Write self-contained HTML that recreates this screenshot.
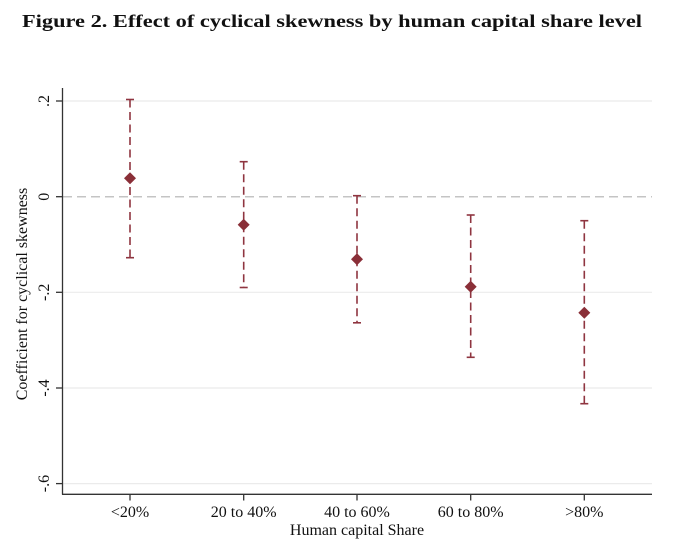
<!DOCTYPE html>
<html>
<head>
<meta charset="utf-8">
<style>
  html, body { margin: 0; padding: 0; background: #ffffff; }
  svg { display: block; }
  text { font-family: "Liberation Serif", "DejaVu Serif", serif; fill: #111; }
</style>
</head>
<body>
<svg width="684" height="547" viewBox="0 0 684 547" xmlns="http://www.w3.org/2000/svg">
  <rect x="0" y="0" width="684" height="547" fill="#ffffff"/>

  <!-- Title -->
  <text x="22" y="27" font-size="18" font-weight="bold" textLength="620" lengthAdjust="spacingAndGlyphs">Figure 2. Effect of cyclical skewness by human capital share level</text>

  <!-- Gridlines -->
  <g stroke="#ebebeb" stroke-width="1.2">
    <line x1="63" y1="101" x2="652" y2="101"/>
    <line x1="63" y1="292.3" x2="652" y2="292.3"/>
    <line x1="63" y1="388" x2="652" y2="388"/>
    <line x1="63" y1="483.6" x2="652" y2="483.6"/>
  </g>
  <!-- Zero dashed line -->
  <line x1="63" y1="196.7" x2="652" y2="196.7" stroke="#c4c4c4" stroke-width="1.5" stroke-dasharray="9,5"/>

  <!-- Axes -->
  <g stroke="#333" stroke-width="1.3" fill="none">
    <line x1="62.5" y1="88" x2="62.5" y2="494.5"/>
    <line x1="62" y1="494.3" x2="652" y2="494.3"/>
    <!-- y ticks -->
    <line x1="56" y1="101" x2="62.5" y2="101"/>
    <line x1="56" y1="196.7" x2="62.5" y2="196.7"/>
    <line x1="56" y1="292.3" x2="62.5" y2="292.3"/>
    <line x1="56" y1="388" x2="62.5" y2="388"/>
    <line x1="56" y1="483.6" x2="62.5" y2="483.6"/>
    <!-- x ticks -->
    <line x1="130" y1="494.3" x2="130" y2="500.5"/>
    <line x1="243.7" y1="494.3" x2="243.7" y2="500.5"/>
    <line x1="357" y1="494.3" x2="357" y2="500.5"/>
    <line x1="470.7" y1="494.3" x2="470.7" y2="500.5"/>
    <line x1="584.3" y1="494.3" x2="584.3" y2="500.5"/>
  </g>

  <!-- Y tick labels (rotated) -->
  <g font-size="16" text-anchor="middle">
    <text transform="translate(49,101) rotate(-90)">.2</text>
    <text transform="translate(49,196.7) rotate(-90)">0</text>
    <text transform="translate(49,292.3) rotate(-90)">-.2</text>
    <text transform="translate(49,388) rotate(-90)">-.4</text>
    <text transform="translate(49,483.6) rotate(-90)">-.6</text>
  </g>

  <!-- Y axis title -->
  <text transform="translate(27,294) rotate(-90)" font-size="16" text-anchor="middle">Coefficient for cyclical skewness</text>

  <!-- X tick labels -->
  <g font-size="16" text-anchor="middle">
    <text x="130" y="517">&lt;20%</text>
    <text x="243.7" y="517">20 to 40%</text>
    <text x="357" y="517">40 to 60%</text>
    <text x="470.7" y="517">60 to 80%</text>
    <text x="584.3" y="517">&gt;80%</text>
  </g>
  <!-- X axis title -->
  <text x="357" y="535" font-size="16" text-anchor="middle">Human capital Share</text>

  <!-- Error bars -->
  <g stroke="#8f3540" stroke-width="1.6" fill="none">
    <line x1="130" y1="99.5" x2="130" y2="257.7" stroke-dasharray="8,4.5"/>
    <line x1="126" y1="99.5" x2="134" y2="99.5"/>
    <line x1="126" y1="257.7" x2="134" y2="257.7"/>

    <line x1="243.7" y1="161.7" x2="243.7" y2="287.5" stroke-dasharray="8,4.5"/>
    <line x1="239.7" y1="161.7" x2="247.7" y2="161.7"/>
    <line x1="239.7" y1="287.5" x2="247.7" y2="287.5"/>

    <line x1="357" y1="195.7" x2="357" y2="322.8" stroke-dasharray="8,4.5"/>
    <line x1="353" y1="195.7" x2="361" y2="195.7"/>
    <line x1="353" y1="322.8" x2="361" y2="322.8"/>

    <line x1="470.7" y1="215" x2="470.7" y2="357.3" stroke-dasharray="8,4.5"/>
    <line x1="466.7" y1="215" x2="474.7" y2="215"/>
    <line x1="466.7" y1="357.3" x2="474.7" y2="357.3"/>

    <line x1="584.3" y1="220.7" x2="584.3" y2="403.7" stroke-dasharray="8,4.5"/>
    <line x1="580.3" y1="220.7" x2="588.3" y2="220.7"/>
    <line x1="580.3" y1="403.7" x2="588.3" y2="403.7"/>
  </g>

  <!-- Diamond markers -->
  <g fill="#8a2f38">
    <polygon points="130,172.3 136,178.3 130,184.3 124,178.3"/>
    <polygon points="243.7,218.8 249.7,224.8 243.7,230.8 237.7,224.8"/>
    <polygon points="357,253.2 363,259.2 357,265.2 351,259.2"/>
    <polygon points="470.7,280.7 476.7,286.7 470.7,292.7 464.7,286.7"/>
    <polygon points="584.3,306.7 590.3,312.7 584.3,318.7 578.3,312.7"/>
  </g>
</svg>
</body>
</html>
